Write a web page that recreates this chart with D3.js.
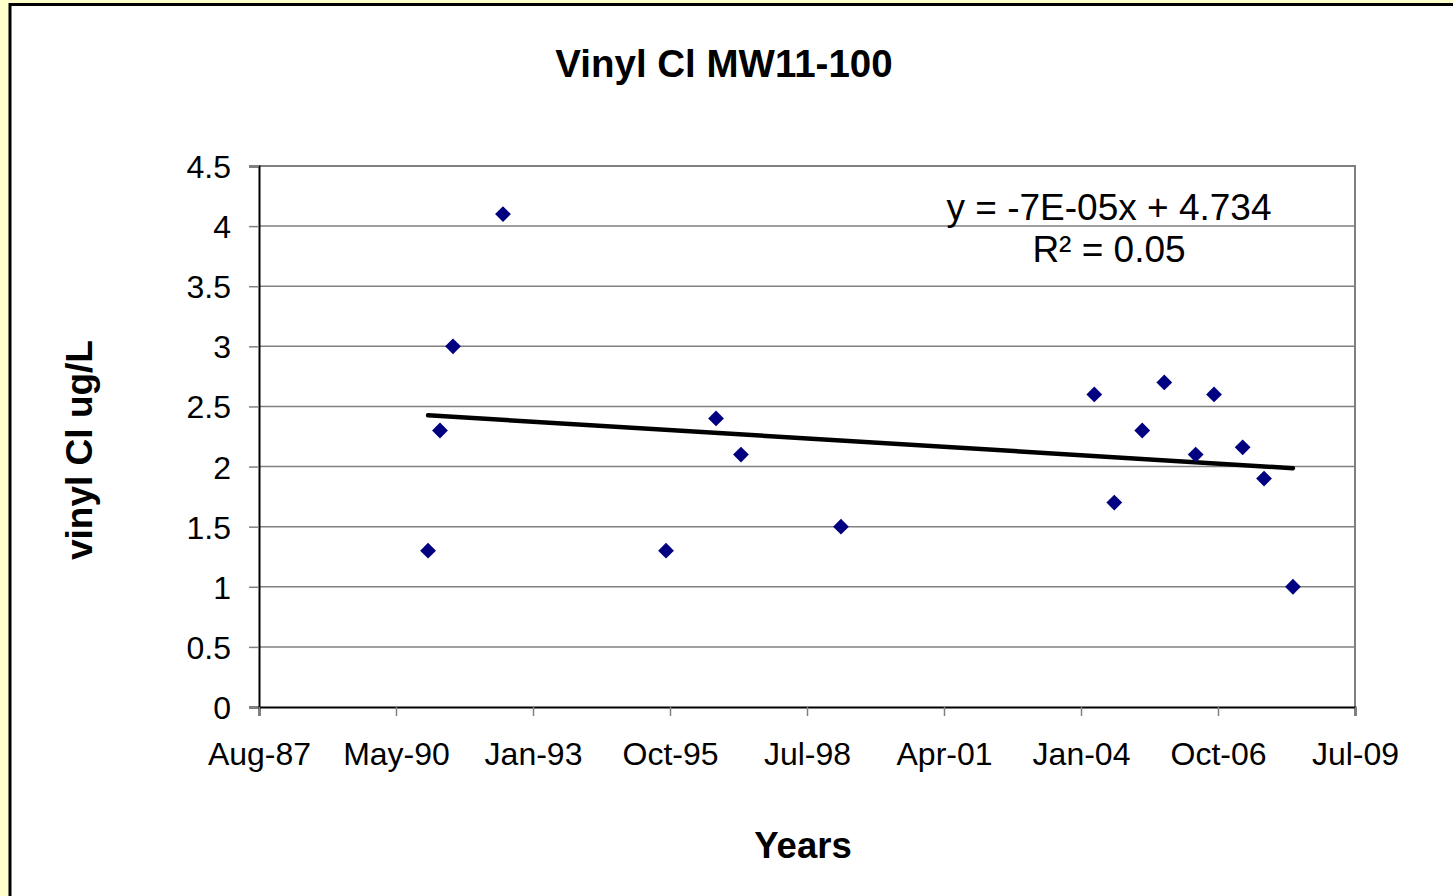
<!DOCTYPE html>
<html>
<head>
<meta charset="utf-8">
<script src="https://cdn.jsdelivr.net/npm/d3@7"></script>
<style>
  body { margin: 0; background: #ffffcc; }
  svg { display: block; font-family: Arial, "Liberation Sans", sans-serif; }
</style>
</head>
<body>
<div id="chart"></div>
<script>

// sample dates and vinyl chloride results (ug/L)
const sampleDates = ["1990-12-27","1991-03-24","1991-06-27","1992-06-26","1995-09-29","1996-09-28",
  "1997-03-29","1999-03-29","2004-04-20","2004-09-13","2005-04-05","2005-09-13","2006-04-30",
  "2006-09-11","2007-04-08","2007-09-11","2008-04-09"];
const vinylCl = [1.3, 2.3, 3.0, 4.1, 1.3, 2.4, 2.1, 1.5, 2.6, 1.7, 2.3, 2.7, 2.1, 2.6, 2.16, 1.9, 1.0];

// axis ticks (every 1000 days, as Excel did)
const xTickDates = ["1987-08-11","1990-05-07","1993-01-31","1995-10-28","1998-07-24",
  "2001-04-19","2004-01-14","2006-10-10","2009-07-06"];
const yTicks = [0, 0.5, 1, 1.5, 2, 2.5, 3, 3.5, 4, 4.5];
const trendLabel = ["y = -7E-05x + 4.734", "R² = 0.05"];

const W = 1453, H = 896;
const plot = {left: 259, right: 1355, top: 166, bottom: 707};

const parse = d3.utcParse("%Y-%m-%d");
const data = sampleDates.map((d, i) => ({date: parse(d), value: vinylCl[i]}));
const ticks = xTickDates.map(parse);

const svg = d3.select("#chart").append("svg")
  .attr("width", W)
  .attr("height", H);

svg.append("rect")
  .attr("width", W).attr("height", H)
  .attr("fill", "#ffffcc");

// chart frame
svg.append("rect")
  .attr("x", 10).attr("y", 4.5)
  .attr("width", 1600).attr("height", 1000)
  .attr("fill", "#fff")
  .attr("stroke", "#000")
  .attr("stroke-width", 3);

const x = d3.scaleUtc()
  .domain([ticks[0], ticks[ticks.length - 1]])
  .range([plot.left, plot.right]);

const y = d3.scaleLinear()
  .domain([0, 4.5])
  .range([plot.bottom, plot.top]);

// gridlines
svg.append("g")
  .selectAll("line")
  .data(yTicks.slice(1))
  .join("line")
  .attr("x1", plot.left).attr("x2", plot.right)
  .attr("y1", d => y(d)).attr("y2", d => y(d))
  .attr("stroke", "#808080")
  .attr("stroke-width", 1.5);

// plot border right/top
svg.append("path")
  .attr("d", `M${plot.left},${plot.top}H${plot.right}V${plot.bottom}`)
  .attr("fill", "none")
  .attr("stroke", "#808080")
  .attr("stroke-width", 2);

// axes
const yAxis = d3.axisLeft(y)
  .tickValues(yTicks)
  .tickSize(10)
  .tickPadding(18)
  .tickFormat(d3.format("~g"));

const gy = svg.append("g")
  .attr("transform", `translate(${plot.left},0)`)
  .call(yAxis);

const xAxis = d3.axisBottom(x)
  .tickValues(ticks)
  .tickSize(9)
  .tickPadding(26)
  .tickFormat(d3.utcFormat("%b-%y"));

const gx = svg.append("g")
  .attr("transform", `translate(0,${plot.bottom})`)
  .call(xAxis);

[gx, gy].forEach(g => {
  g.select(".domain").attr("stroke", "#000").attr("stroke-width", 2);
  g.selectAll(".tick line").attr("stroke", "#808080").attr("stroke-width", 1.5);
  g.selectAll(".tick text")
    .attr("fill", "#000")
    .style("font-size", "32px")
    .style("font-family", "Arial, 'Liberation Sans', sans-serif");
});
gy.selectAll(".tick text").attr("dy", "0.36em");
gx.selectAll(".tick text").attr("dy", "0.71em");

// linear trendline (least squares on days)
const dayOf = d => d.date.getTime() / 86400000;
const xs = data.map(dayOf), ys = data.map(d => d.value);
const mx = d3.mean(xs), my = d3.mean(ys);
const slope = d3.sum(xs, (v, i) => (v - mx) * (ys[i] - my)) / d3.sum(xs, v => (v - mx) * (v - mx));
const intercept = my - slope * mx;
const ends = d3.extent(data, d => d.date);

svg.append("line")
  .attr("x1", x(ends[0])).attr("x2", x(ends[1]))
  .attr("y1", y(intercept + slope * ends[0].getTime() / 86400000))
  .attr("y2", y(intercept + slope * ends[1].getTime() / 86400000))
  .attr("stroke", "#000")
  .attr("stroke-width", 4.5)
  .attr("stroke-linecap", "round");

// markers
svg.append("g")
  .selectAll("path")
  .data(data)
  .join("path")
  .attr("d", d3.symbol(d3.symbolSquare, 125))
  .attr("transform", d => `translate(${x(d.date)},${y(d.value)}) rotate(45)`)
  .attr("fill", "#000080");

// trendline equation
svg.append("g")
  .selectAll("text")
  .data(trendLabel)
  .join("text")
  .attr("x", 1109)
  .attr("y", (d, i) => 220 + i * 42)
  .attr("text-anchor", "middle")
  .style("font-size", "37px")
  .text(d => d);

// titles
svg.append("text")
  .attr("x", 724).attr("y", 77)
  .attr("text-anchor", "middle")
  .style("font-size", "38.5px").style("font-weight", "bold")
  .text("Vinyl Cl MW11-100");

svg.append("text")
  .attr("x", 803).attr("y", 858)
  .attr("text-anchor", "middle")
  .style("font-size", "36.5px").style("font-weight", "bold")
  .text("Years");

svg.append("text")
  .attr("transform", "translate(92,450) rotate(-90)")
  .attr("text-anchor", "middle")
  .style("font-size", "37px").style("font-weight", "bold")
  .text("vinyl Cl ug/L");

</script>
</body>
</html>
